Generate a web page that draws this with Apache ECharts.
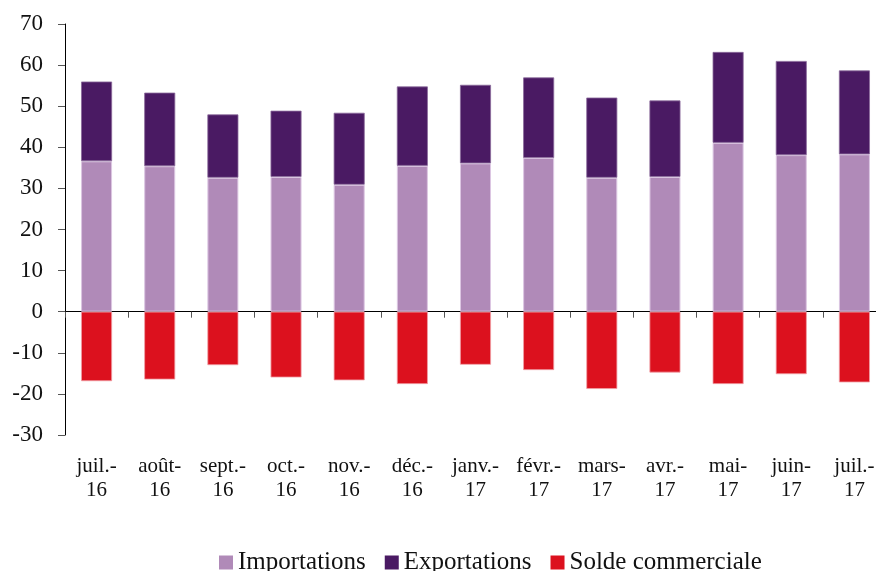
<!DOCTYPE html>
<html lang="fr">
<head>
<meta charset="UTF-8">
<title>Commerce extérieur</title>
<script src="https://cdn.jsdelivr.net/npm/echarts@6/dist/echarts.min.js"></script>
<style>
  html, body { margin: 0; padding: 0; background: #fff; }
  #main { width: 876px; height: 571px; }
</style>
</head>
<body>
<div id="main"></div>
<script>
var mois = ['juil.-\n16', 'août-\n16', 'sept.-\n16', 'oct.-\n16', 'nov.-\n16', 'déc.-\n16',
            'janv.-\n17', 'févr.-\n17', 'mars-\n17', 'avr.-\n17', 'mai-\n17', 'juin-\n17', 'juil.-\n17'];
var importations = [36.6, 35.4, 32.6, 32.8, 30.9, 35.5, 36.1, 37.4, 32.6, 32.8, 41.1, 38.1, 38.3];
var exportations = [19.4, 17.9, 15.4, 16.1, 17.5, 19.3, 19.1, 19.6, 19.5, 18.6, 22.1, 22.9, 20.4];
var solde = [-16.9, -16.5, -13.0, -16.0, -16.7, -17.6, -12.9, -14.2, -18.8, -14.8, -17.6, -15.2, -17.2];

var police = 'Liberation Serif, Times New Roman, serif';
var myChart = echarts.init(document.getElementById('main'));

var option = {
    animation: false,
    textStyle: { fontFamily: police },
    grid: {
        left: 65, top: 24, right: -10, bottom: 136,
        containLabel: false,
        outerBoundsMode: 'none'
    },
    legend: {
        left: 214,
        top: 545,
        itemWidth: 14,
        itemHeight: 14,
        itemGap: 19,
        icon: 'rect',
        itemStyle: { borderWidth: 0 },
        textStyle: { fontFamily: police, fontSize: 25, color: '#111' },
        data: ['Importations', 'Exportations', 'Solde commerciale']
    },
    xAxis: [{
        // axe au niveau du zéro : trait + graduations vers le bas
        type: 'category',
        position: 'top',
        data: mois,
        axisLine: { onZero: true, lineStyle: { color: '#000', width: 1 } },
        axisTick: { show: true, inside: true, length: 6, lineStyle: { color: '#555' } },
        axisLabel: { show: false }
    }, {
        // étiquettes en bas du graphique
        type: 'category',
        position: 'bottom',
        data: mois,
        axisLine: { show: false },
        axisTick: { show: false },
        axisLabel: {
            margin: 19,
            interval: 0,
            fontFamily: police,
            fontSize: 21,
            lineHeight: 24,
            color: '#111'
        }
    }],
    yAxis: {
        type: 'value',
        min: -30,
        max: 70,
        interval: 10,
        splitLine: { show: false },
        axisLine: { show: true, lineStyle: { color: '#000' } },
        axisTick: { show: true, length: 7, lineStyle: { color: '#555' } },
        axisLabel: { margin: 22, fontFamily: police, fontSize: 23, color: '#111' }
    },
    series: [{
        name: 'Importations',
        type: 'bar',
        stack: 'total',
        barWidth: 31,
        data: importations,
        itemStyle: { color: '#b08ab8', borderColor: '#dcc6e2', borderWidth: 1 }
    }, {
        name: 'Exportations',
        type: 'bar',
        stack: 'total',
        barWidth: 31,
        data: exportations,
        itemStyle: { color: '#4a1a63', borderColor: '#8a6a9a', borderWidth: 0.8 }
    }, {
        name: 'Solde commerciale',
        type: 'bar',
        stack: 'total',
        barWidth: 31,
        data: solde,
        itemStyle: { color: '#dc111e', borderColor: '#f0a0a6', borderWidth: 0.8 }
    }]
};

myChart.setOption(option);
</script>
</body>
</html>
